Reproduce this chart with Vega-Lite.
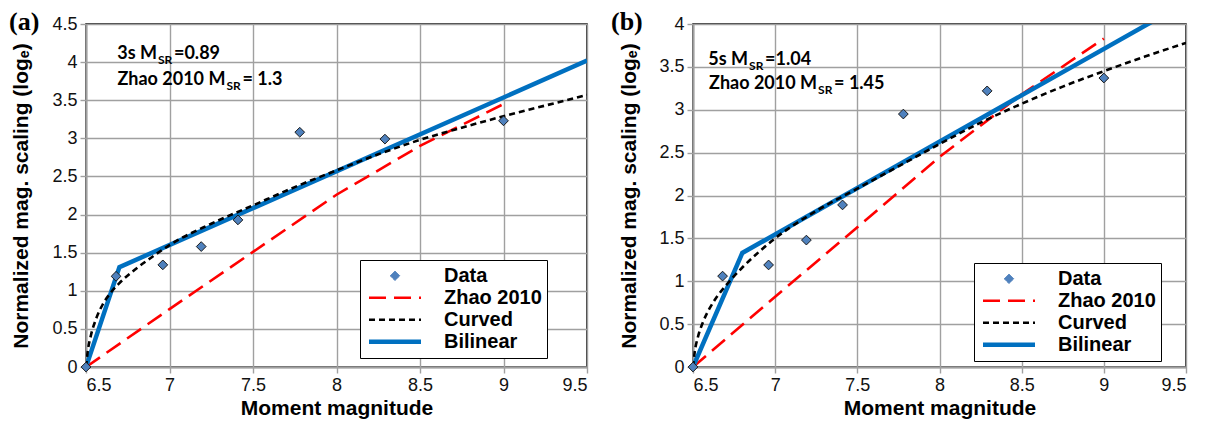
{
  "$schema": "https://vega.github.io/schema/vega-lite/v6.json",
  "background": "white",
  "padding": {"left": 8, "top": 8, "right": 10, "bottom": 4},
  "bounds": "flush",
  "spacing": 106,
  "resolve": {"scale": {"color": "independent"}, "legend": {"color": "independent"}},
  "config": {
    "view": {"stroke": "#000000", "strokeWidth": 1.5},
    "font": "Liberation Sans",
    "axis": {
      "grid": true,
      "gridColor": "#a0a0a0",
      "gridWidth": 1.4,
      "domainColor": "#a0a0a0",
      "domainWidth": 2,
      "tickColor": "#a0a0a0",
      "tickWidth": 1.4,
      "tickSize": 6,
      "labelFont": "Liberation Sans",
      "labelFontSize": 18,
      "labelColor": "#111111",
      "labelPadding": 3,
      "titleFont": "Liberation Sans",
      "titleFontSize": 21,
      "titleFontWeight": "bold",
      "titleColor": "#000000"
    }
  },
  "datasets": {
    "pts_a": [
      {"M": 6.5, "y": 0, "series": "Data"},
      {"M": 6.68, "y": 1.19, "series": "Data"},
      {"M": 6.96, "y": 1.34, "series": "Data"},
      {"M": 7.19, "y": 1.58, "series": "Data"},
      {"M": 7.41, "y": 1.93, "series": "Data"},
      {"M": 7.78, "y": 3.08, "series": "Data"},
      {"M": 8.29, "y": 2.99, "series": "Data"},
      {"M": 9.0, "y": 3.23, "series": "Data"}
    ],
    "lines_a": [
      {"M": 6.5, "y": 0, "series": "Zhao 2010"},
      {"M": 7.0, "y": 0.76, "series": "Zhao 2010"},
      {"M": 7.5, "y": 1.51, "series": "Zhao 2010"},
      {"M": 8.0, "y": 2.26, "series": "Zhao 2010"},
      {"M": 8.5, "y": 2.9, "series": "Zhao 2010"},
      {"M": 9.0, "y": 3.45, "series": "Zhao 2010"},
      {"M": 6.5, "y": 0, "series": "Bilinear"},
      {"M": 6.7, "y": 1.31, "series": "Bilinear"},
      {"M": 9.5, "y": 4.02, "series": "Bilinear"},
      {"M": 6.5, "y": 0, "series": "Curved"},
      {"M": 6.51, "y": 0.2, "series": "Curved"},
      {"M": 6.53, "y": 0.42, "series": "Curved"},
      {"M": 6.56, "y": 0.63, "series": "Curved"},
      {"M": 6.6, "y": 0.82, "series": "Curved"},
      {"M": 6.65, "y": 0.98, "series": "Curved"},
      {"M": 6.7, "y": 1.1, "series": "Curved"},
      {"M": 6.8, "y": 1.29, "series": "Curved"},
      {"M": 6.9, "y": 1.45, "series": "Curved"},
      {"M": 7.0, "y": 1.6, "series": "Curved"},
      {"M": 7.25, "y": 1.88, "series": "Curved"},
      {"M": 7.5, "y": 2.12, "series": "Curved"},
      {"M": 7.75, "y": 2.36, "series": "Curved"},
      {"M": 8.0, "y": 2.58, "series": "Curved"},
      {"M": 8.25, "y": 2.79, "series": "Curved"},
      {"M": 8.5, "y": 2.98, "series": "Curved"},
      {"M": 8.75, "y": 3.14, "series": "Curved"},
      {"M": 9.0, "y": 3.29, "series": "Curved"},
      {"M": 9.25, "y": 3.43, "series": "Curved"},
      {"M": 9.5, "y": 3.57, "series": "Curved"}
    ],
    "note_a": [
      {"M": 6.925, "y": 4.1, "pre": "3s M", "sub": "SR", "suf": " =0.89"},
      {"M": 7.335, "y": 3.77, "pre": "Zhao 2010 M", "sub": "SR", "suf": "= 1.3"}
    ],
    "tag_a": [{"M": 6.5, "y": 4.5, "tag": "(a)"}],
    "pts_b": [
      {"M": 6.5, "y": 0, "series": "Data"},
      {"M": 6.68, "y": 1.06, "series": "Data"},
      {"M": 6.96, "y": 1.19, "series": "Data"},
      {"M": 7.19, "y": 1.48, "series": "Data"},
      {"M": 7.41, "y": 1.89, "series": "Data"},
      {"M": 7.78, "y": 2.95, "series": "Data"},
      {"M": 8.29, "y": 3.22, "series": "Data"},
      {"M": 9.0, "y": 3.37, "series": "Data"}
    ],
    "lines_b": [
      {"M": 6.5, "y": 0, "series": "Zhao 2010"},
      {"M": 7.0, "y": 0.82, "series": "Zhao 2010"},
      {"M": 7.5, "y": 1.63, "series": "Zhao 2010"},
      {"M": 8.0, "y": 2.45, "series": "Zhao 2010"},
      {"M": 8.5, "y": 3.18, "series": "Zhao 2010"},
      {"M": 9.0, "y": 3.83, "series": "Zhao 2010"},
      {"M": 6.5, "y": 0, "series": "Bilinear"},
      {"M": 6.8, "y": 1.33, "series": "Bilinear"},
      {"M": 9.5, "y": 4.25, "series": "Bilinear"},
      {"M": 6.5, "y": 0, "series": "Curved"},
      {"M": 6.51, "y": 0.17, "series": "Curved"},
      {"M": 6.53, "y": 0.35, "series": "Curved"},
      {"M": 6.56, "y": 0.52, "series": "Curved"},
      {"M": 6.6, "y": 0.68, "series": "Curved"},
      {"M": 6.65, "y": 0.83, "series": "Curved"},
      {"M": 6.7, "y": 0.95, "series": "Curved"},
      {"M": 6.8, "y": 1.16, "series": "Curved"},
      {"M": 6.9, "y": 1.34, "series": "Curved"},
      {"M": 7.0, "y": 1.5, "series": "Curved"},
      {"M": 7.25, "y": 1.82, "series": "Curved"},
      {"M": 7.5, "y": 2.08, "series": "Curved"},
      {"M": 7.75, "y": 2.34, "series": "Curved"},
      {"M": 8.0, "y": 2.6, "series": "Curved"},
      {"M": 8.25, "y": 2.85, "series": "Curved"},
      {"M": 8.5, "y": 3.07, "series": "Curved"},
      {"M": 8.75, "y": 3.27, "series": "Curved"},
      {"M": 9.0, "y": 3.45, "series": "Curved"},
      {"M": 9.25, "y": 3.62, "series": "Curved"},
      {"M": 9.5, "y": 3.78, "series": "Curved"}
    ],
    "note_b": [
      {"M": 6.835, "y": 3.58, "pre": "5s M", "sub": "SR", "suf": " =1.04"},
      {"M": 7.255, "y": 3.3, "pre": "Zhao 2010 M", "sub": "SR", "suf": "= 1.45"}
    ],
    "tag_b": [{"M": 6.5, "y": 4.0, "tag": "(b)"}]
  },
  "hconcat": [
    {
      "width": 501,
      "height": 343,
      "encoding": {
        "x": {"field": "M", "type": "quantitative", "scale": {"domain": [6.5, 9.5], "nice": false, "zero": false},
              "axis": {"values": [6.5, 7, 7.5, 8, 8.5, 9, 9.5], "format": "~g", "title": "Moment magnitude", "titlePadding": 3}},
        "y": {"field": "y", "type": "quantitative", "scale": {"domain": [0, 4.5], "nice": false},
              "axis": {"values": [0, 0.5, 1, 1.5, 2, 2.5, 3, 3.5, 4, 4.5], "format": "~g", "title": "Normalized mag. scaling (logₑ)", "titlePadding": 20}}
      },
      "layer": [
        {
          "data": {"name": "lines_a"},
          "transform": [{"filter": "datum.series === 'Zhao 2010'"}],
          "mark": {"type": "line", "strokeDash": [17, 8], "strokeWidth": 2.6, "clip": true},
          "encoding": {"color": {"field": "series", "type": "nominal", "scale": {"domain": ["Data", "Zhao 2010", "Curved", "Bilinear"], "range": ["#4F81BD", "#FF0000", "#000000", "#0070C0"]},
            "legend": {"orient": "none", "legendX": 274, "legendY": 236, "title": null, "fillColor": "white", "strokeColor": "#000000", "padding": 5, "symbolType": "stroke", "symbolSize": 2704, "symbolOffset": 20, "clipHeight": 21.5, "rowPadding": 0, "labelOffset": 39, "labelFont": "Liberation Sans", "labelFontSize": 20, "labelFontWeight": "bold", "labelColor": "#000000",
              "encode": {
                "symbols": {"update": {
                  "shape": {"signal": "datum.value === 'Data' ? 'diamond' : 'stroke'"},
                  "size": {"signal": "datum.value === 'Data' ? 90 : 2704"},
                  "fill": {"signal": "datum.value === 'Data' ? '#4F81BD' : 'transparent'"},
                  "stroke": {"signal": "datum.value === 'Data' ? '#1a1a1a' : datum.value === 'Zhao 2010' ? '#FF0000' : datum.value === 'Curved' ? '#000000' : '#0070C0'"},
                  "strokeWidth": {"signal": "datum.value === 'Data' ? 1 : datum.value === 'Bilinear' ? 4.5 : 2.6"},
                  "strokeDash": {"signal": "datum.value === 'Zhao 2010' ? [17, 8] : datum.value === 'Curved' ? [6, 4] : [1, 0]"},
                  "opacity": {"value": 1}
                }}
              }}}}
        },
        {
          "data": {"name": "lines_a"},
          "transform": [{"filter": "datum.series === 'Bilinear'"}],
          "mark": {"type": "line", "strokeWidth": 4.5, "clip": true},
          "encoding": {"color": {"field": "series", "type": "nominal"}}
        },
        {
          "data": {"name": "lines_a"},
          "transform": [{"filter": "datum.series === 'Curved'"}],
          "mark": {"type": "line", "strokeDash": [6, 4], "strokeWidth": 2.6, "interpolate": "monotone", "clip": true},
          "encoding": {"color": {"field": "series", "type": "nominal"}}
        },
        {
          "data": {"name": "pts_a"},
          "mark": {"type": "point", "shape": "diamond", "filled": true, "size": 95, "stroke": "#1a1a1a", "strokeWidth": 1, "opacity": 1},
          "encoding": {"color": {"field": "series", "type": "nominal"}}
        },
        {
          "data": {"name": "note_a"},
          "mark": {"type": "text", "align": "right", "baseline": "middle", "font": "Lato", "fontWeight": "bold", "fontSize": 18, "color": "#000000"},
          "encoding": {"text": {"field": "pre"}}
        },
        {
          "data": {"name": "note_a"},
          "mark": {"type": "text", "align": "left", "baseline": "middle", "font": "Lato", "fontWeight": "bold", "fontSize": 12, "dx": 1, "dy": 6, "color": "#000000"},
          "encoding": {"text": {"field": "sub"}}
        },
        {
          "data": {"name": "note_a"},
          "mark": {"type": "text", "align": "left", "baseline": "middle", "font": "Lato", "fontWeight": "bold", "fontSize": 18, "dx": 17, "color": "#000000"},
          "encoding": {"text": {"field": "suf"}}
        },
        {
          "data": {"name": "tag_a"},
          "mark": {"type": "text", "align": "left", "baseline": "alphabetic", "font": "Liberation Serif", "fontWeight": "bold", "fontSize": 26, "dx": -77, "dy": 6, "color": "#000000"},
          "encoding": {"text": {"field": "tag"}}
        }
      ]
    },
    {
      "width": 493,
      "height": 343,
      "encoding": {
        "x": {"field": "M", "type": "quantitative", "scale": {"domain": [6.5, 9.5], "nice": false, "zero": false},
              "axis": {"values": [6.5, 7, 7.5, 8, 8.5, 9, 9.5], "format": "~g", "title": "Moment magnitude", "titlePadding": 3}},
        "y": {"field": "y", "type": "quantitative", "scale": {"domain": [0, 4], "nice": false},
              "axis": {"values": [0, 0.5, 1, 1.5, 2, 2.5, 3, 3.5, 4], "format": "~g", "title": "Normalized mag. scaling (logₑ)", "titlePadding": 19}}
      },
      "layer": [
        {
          "data": {"name": "lines_b"},
          "transform": [{"filter": "datum.series === 'Zhao 2010'"}],
          "mark": {"type": "line", "strokeDash": [17, 8], "strokeWidth": 2.6, "clip": true},
          "encoding": {"color": {"field": "series", "type": "nominal", "scale": {"domain": ["Data", "Zhao 2010", "Curved", "Bilinear"], "range": ["#4F81BD", "#FF0000", "#000000", "#0070C0"]},
            "legend": {"orient": "none", "legendX": 281, "legendY": 239, "title": null, "fillColor": "white", "strokeColor": "#000000", "padding": 5, "symbolType": "stroke", "symbolSize": 2704, "symbolOffset": 20, "clipHeight": 21.5, "rowPadding": 0, "labelOffset": 39, "labelFont": "Liberation Sans", "labelFontSize": 20, "labelFontWeight": "bold", "labelColor": "#000000",
              "encode": {
                "symbols": {"update": {
                  "shape": {"signal": "datum.value === 'Data' ? 'diamond' : 'stroke'"},
                  "size": {"signal": "datum.value === 'Data' ? 90 : 2704"},
                  "fill": {"signal": "datum.value === 'Data' ? '#4F81BD' : 'transparent'"},
                  "stroke": {"signal": "datum.value === 'Data' ? '#1a1a1a' : datum.value === 'Zhao 2010' ? '#FF0000' : datum.value === 'Curved' ? '#000000' : '#0070C0'"},
                  "strokeWidth": {"signal": "datum.value === 'Data' ? 1 : datum.value === 'Bilinear' ? 4.5 : 2.6"},
                  "strokeDash": {"signal": "datum.value === 'Zhao 2010' ? [17, 8] : datum.value === 'Curved' ? [6, 4] : [1, 0]"},
                  "opacity": {"value": 1}
                }}
              }}}}
        },
        {
          "data": {"name": "lines_b"},
          "transform": [{"filter": "datum.series === 'Bilinear'"}],
          "mark": {"type": "line", "strokeWidth": 4.5, "clip": true},
          "encoding": {"color": {"field": "series", "type": "nominal"}}
        },
        {
          "data": {"name": "lines_b"},
          "transform": [{"filter": "datum.series === 'Curved'"}],
          "mark": {"type": "line", "strokeDash": [6, 4], "strokeWidth": 2.6, "interpolate": "monotone", "clip": true},
          "encoding": {"color": {"field": "series", "type": "nominal"}}
        },
        {
          "data": {"name": "pts_b"},
          "mark": {"type": "point", "shape": "diamond", "filled": true, "size": 95, "stroke": "#1a1a1a", "strokeWidth": 1, "opacity": 1},
          "encoding": {"color": {"field": "series", "type": "nominal"}}
        },
        {
          "data": {"name": "note_b"},
          "mark": {"type": "text", "align": "right", "baseline": "middle", "font": "Lato", "fontWeight": "bold", "fontSize": 18, "color": "#000000"},
          "encoding": {"text": {"field": "pre"}}
        },
        {
          "data": {"name": "note_b"},
          "mark": {"type": "text", "align": "left", "baseline": "middle", "font": "Lato", "fontWeight": "bold", "fontSize": 12, "dx": 1, "dy": 6, "color": "#000000"},
          "encoding": {"text": {"field": "sub"}}
        },
        {
          "data": {"name": "note_b"},
          "mark": {"type": "text", "align": "left", "baseline": "middle", "font": "Lato", "fontWeight": "bold", "fontSize": 18, "dx": 17, "color": "#000000"},
          "encoding": {"text": {"field": "suf"}}
        },
        {
          "data": {"name": "tag_b"},
          "mark": {"type": "text", "align": "left", "baseline": "alphabetic", "font": "Liberation Serif", "fontWeight": "bold", "fontSize": 26, "dx": -82, "dy": 6, "color": "#000000"},
          "encoding": {"text": {"field": "tag"}}
        }
      ]
    }
  ]
}
